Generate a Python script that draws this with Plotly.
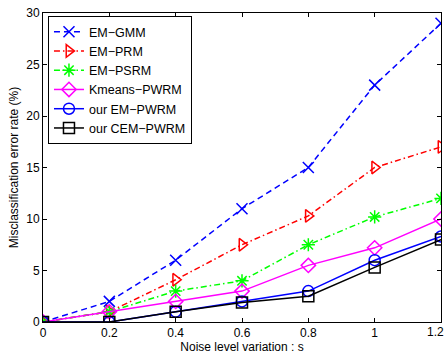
import plotly.graph_objects as go

noise = [0, 0.2, 0.4, 0.6, 0.8, 1.0, 1.2]
x_ticktext = ["0", "0.2", "0.4", "0.6", "0.8", "1", "1.2"]
y_ticks = [0, 5, 10, 15, 20, 25, 30]
em_gmm = [0, 2, 6, 11, 15, 23, 29]
em_prm = [0, 1, 4.1, 7.5, 10.3, 15, 17]
em_psrm = [0, 1, 3, 4, 7.5, 10.2, 12]
kmeans_pwrm = [0, 1, 2, 3, 5.5, 7.2, 10]
em_pwrm = [0, 0, 1, 2, 3, 6, 8.3]
cem_pwrm = [0, 0, 1, 1.9, 2.5, 5.3, 8]

series = [
    ("EM\u2212GMM", em_gmm, "#0000ff", "6px,4px", "x-thin-open"),
    ("EM\u2212PRM", em_prm, "#ff0000", "6px,3px,1.5px,3px", "triangle-right-open"),
    ("EM\u2212PSRM", em_psrm, "#00ff00", "6px,3px,1.5px,3px", "asterisk-open"),
    ("Kmeans\u2212PWRM", kmeans_pwrm, "#ff00ff", "solid", "diamond-open"),
    ("our EM\u2212PWRM", em_pwrm, "#0000ff", "solid", "circle-open"),
    ("our CEM\u2212PWRM", cem_pwrm, "#000000", "solid", "square-open"),
]

FONT = "Liberation Sans, Arial, sans-serif"

fig = go.Figure()
for name, ys, color, dash, sym in series:
    fig.add_trace(go.Scatter(
        x=noise, y=ys, name=name, mode="lines+markers",
        line=dict(color=color, width=1.5, dash=dash),
        marker=dict(symbol=sym, size=11, color=color, line=dict(color=color, width=1.5)),
    ))

axis_common = dict(
    showgrid=False, zeroline=False, showline=True, linecolor="black", linewidth=1,
    mirror="ticks", ticks="inside", ticklen=4, tickcolor="black",
    tickfont=dict(family=FONT, size=12, color="black"),
)
fig.update_xaxes(range=[0, 1.2], tickvals=noise[:-1], ticktext=x_ticktext[:-1],
                 title=dict(text="Noise level variation : s", standoff=1,
                            font=dict(family=FONT, size=12, color="black")),
                 **axis_common)
fig.update_yaxes(range=[0, 30], tickvals=y_ticks,
                 title=dict(text="Misclassification error rate (%)", standoff=5,
                            font=dict(family=FONT, size=12, color="black")),
                 **axis_common)
# last x tick label, kept inside the page at the right edge
fig.add_annotation(x=noise[-1], y=0, xref="x", yref="paper", text=x_ticktext[-1],
                   showarrow=False, yanchor="top", xanchor="right", xshift=5, yshift=-1,
                   font=dict(family=FONT, size=12, color="black"))
fig.update_layout(
    width=448, height=356,
    margin=dict(l=43, r=6, t=10, b=33),
    plot_bgcolor="white", paper_bgcolor="white",
    font=dict(family=FONT, size=12, color="black"),
    legend=dict(x=0.0125, y=0.99, xanchor="left", yanchor="top",
                bgcolor="white", bordercolor="black", borderwidth=1,
                font=dict(size=12.5), tracegroupgap=0, itemwidth=30),
)
fig.write_html("out.html")
